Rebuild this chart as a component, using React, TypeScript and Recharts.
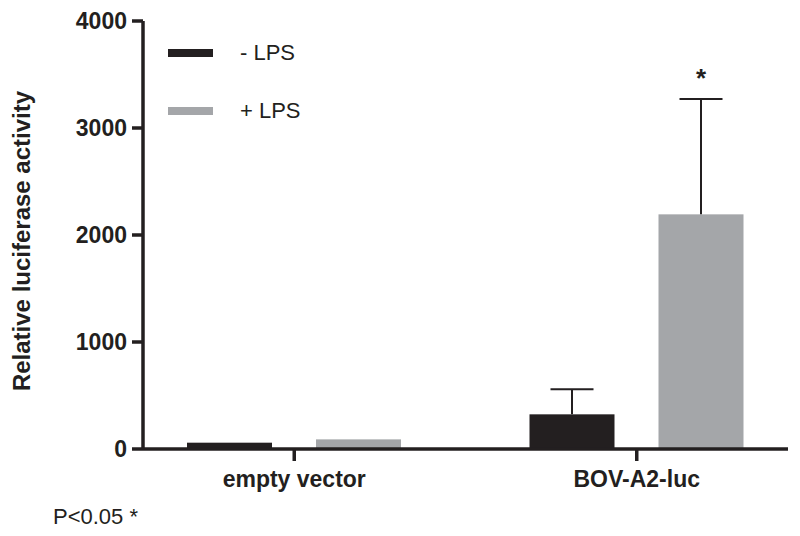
import { Bar, BarChart, XAxis, YAxis } from "recharts";

const INK = "#231f20";
const GREY = "#a4a6a9";
const FONT = '"Liberation Sans", Arial, Helvetica, sans-serif';

const categories = ["empty vector", "BOV-A2-luc"];
const minusLps = [59, 324];
const plusLps = [90, 2193];
const minusErr = [0, 234];
const plusErr = [0, 1078];
const stars = ["", "*"];
const yTicks = [0, 1000, 2000, 3000, 4000];

const data = categories.map((name, i) => ({
  name,
  minus: minusLps[i],
  plus: plusLps[i],
  minusErr: minusErr[i],
  plusErr: plusErr[i],
  star: stars[i],
}));

// bar + one-sided error whisker (+ significance star), scaled from the bar itself
const makeShape = (fill: string, valueKey: string, errKey: string, withStar: boolean) => (props: any) => {
  const { x, y, width, height, payload } = props;
  const value = payload[valueKey];
  const err = payload[errKey];
  const cx = x + width / 2;
  const errTop = value > 0 ? y - (err / value) * height : y;
  return (
    <g>
      <rect x={x} y={y} width={width} height={height} fill={fill} />
      {err > 0 && (
        <g stroke={INK} strokeWidth={2}>
          <line x1={cx} y1={y} x2={cx} y2={errTop} />
          <line x1={cx - 21.5} y1={errTop} x2={cx + 21.5} y2={errTop} />
        </g>
      )}
      {withStar && payload.star && (
        <text x={cx} y={errTop - 12} textAnchor="middle" fontFamily={FONT} fontWeight="bold"
          fontSize={26} fill={INK}>
          {payload.star}
        </text>
      )}
    </g>
  );
};

const legendItems = [
  { label: "- LPS", color: INK, top: 49 },
  { label: "+ LPS", color: GREY, top: 107 },
];

function LegendBox() {
  return (
    <>
      {legendItems.map((it) => (
        <div key={it.label}>
          <div style={{ position: "absolute", left: 168, top: it.top, width: 45, height: 8, background: it.color }} />
          <div style={{
            position: "absolute", left: 240, top: it.top - 9, fontFamily: FONT, fontSize: 22,
            lineHeight: "26px", color: INK, whiteSpace: "nowrap",
          }}>
            {it.label}
          </div>
        </div>
      ))}
    </>
  );
}

export default function App() {
  const tickStyle = { fontFamily: FONT, fontWeight: "bold", fontSize: 23, fill: INK };
  return (
    <div style={{ position: "absolute", left: 0, top: 0, width: 800, height: 536, background: "#fff" }}>
      <BarChart width={800} height={536} data={data} barSize={85} barGap={44}
        margin={{ top: 21, right: 12, bottom: 0, left: 0 }}>
        <XAxis dataKey="name" padding={{ left: -20, right: -20 }} tick={tickStyle} tickSize={12}
          tickMargin={10} axisLine={{ stroke: INK, strokeWidth: 3.5 }}
          tickLine={{ stroke: INK, strokeWidth: 3.5 }} height={87} />
        <YAxis width={143} domain={[0, 4000]} ticks={yTicks} interval={0} tick={tickStyle}
          tickSize={11} tickMargin={5} axisLine={{ stroke: INK, strokeWidth: 3.5 }}
          tickLine={{ stroke: INK, strokeWidth: 3.5 }} />
        <Bar dataKey="minus" name="- LPS" fill={INK} isAnimationActive={false}
          shape={makeShape(INK, "minus", "minusErr", false)} />
        <Bar dataKey="plus" name="+ LPS" fill={GREY} isAnimationActive={false}
          shape={makeShape(GREY, "plus", "plusErr", true)} />
      </BarChart>
      <LegendBox />
      <div style={{
        position: "absolute", left: 22, top: 241, transform: "translate(-50%, -50%) rotate(-90deg)",
        fontFamily: FONT, fontWeight: "bold", fontSize: 24, color: INK, whiteSpace: "nowrap",
      }}>
        Relative luciferase activity
      </div>
      <div style={{
        position: "absolute", left: 53, top: 504, fontFamily: FONT, fontSize: 22, lineHeight: "26px",
        color: INK, whiteSpace: "nowrap",
      }}>
        P&lt;0.05 *
      </div>
    </div>
  );
}
